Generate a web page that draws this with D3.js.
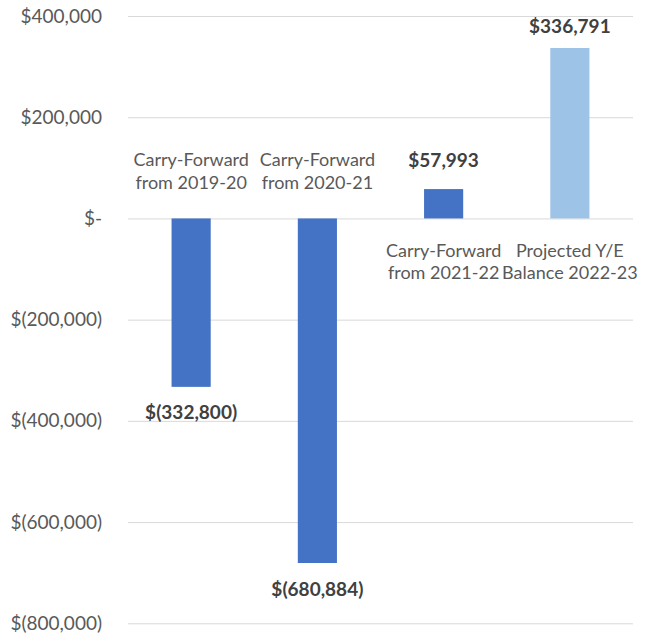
<!DOCTYPE html>
<html>
<head>
<meta charset="utf-8">
<script src="https://cdn.jsdelivr.net/npm/d3@7"></script>
<style>
  body { margin:0; background:#fff; }
  text { font-family: Lato, "Open Sans", sans-serif; }
</style>
</head>
<body>
<div id="chart"></div>
<script>
// chart data
const categories = ["Carry-Forward from 2019-20", "Carry-Forward from 2020-21", "Carry-Forward from 2021-22", "Projected Y/E Balance 2022-23"];
const catLines = [["Carry-Forward", "from 2019-20"], ["Carry-Forward", "from 2020-21"], ["Carry-Forward", "from 2021-22"], ["Projected Y/E", "Balance 2022-23"]];
const values = [-332800, -680884, 57993, 336791];
const barColors = ["#4472C4", "#4472C4", "#4472C4", "#9DC3E6"];
const yTicks = [400000, 200000, 0, -200000, -400000, -600000, -800000];

function money(v) {
  if (v === 0) return "$-";
  const s = d3.format(",")(Math.abs(v));
  return v < 0 ? `$(${s})` : `$${s}`;
}

function renderChart() {
  const W = 648, H = 633;
  const margin = {top:16, right:15, bottom:10, left:128},
        width = W - margin.left - margin.right,
        height = 623.3 - margin.top;

  const svg = d3.select("#chart").append("svg")
    .attr("width", W).attr("height", H)
    .append("g").attr("transform", `translate(${margin.left},${margin.top})`);

  const data = categories.map((c,i)=>({cat:c, lines:catLines[i], value:values[i], color:barColors[i]}));

  const x = d3.scaleBand().domain(categories).range([0,width]).paddingInner(0.69).paddingOuter(0.345);
  const y = d3.scaleLinear().domain([-800000, 400000]).range([height, 0]);

  // grid + tick labels
  const ax = svg.append("g")
    .call(d3.axisLeft(y).tickValues(yTicks).tickSize(-width).tickPadding(26).tickFormat(money));
  ax.select(".domain").remove();
  ax.selectAll(".tick line").attr("stroke", "#D9D9D9").attr("stroke-width", 1);
  ax.selectAll(".tick text").attr("fill", "#595959").style("font-size", "19px")
    .style("font-family", "Lato, 'Open Sans', sans-serif");

  // bars
  svg.selectAll("rect.bar").data(data).join("rect").attr("class","bar")
    .attr("x", d=>x(d.cat)).attr("width", x.bandwidth())
    .attr("y", d=>y(Math.max(0,d.value)))
    .attr("height", d=>Math.abs(y(d.value)-y(0)))
    .attr("fill", d=>d.color);

  // value labels
  svg.selectAll("text.val").data(data).join("text").attr("class","val")
    .attr("x", d=>x(d.cat)+x.bandwidth()/2)
    .attr("y", d=> d.value < 0 ? y(d.value)+32.6 : Math.max(y(d.value)-22, y(400000)+17))
    .attr("text-anchor","middle").attr("fill","#404040")
    .style("font-size","19px").style("font-weight","bold")
    .text(d=>money(d.value));

  // category labels (opposite side of zero from the bar)
  const cl = svg.selectAll("text.cat").data(data).join("text").attr("class","cat")
    .attr("text-anchor","middle").attr("fill","#595959").style("font-size","18px")
    .attr("transform", d=>`translate(${x(d.cat)+x.bandwidth()/2},${d.value < 0 ? y(0)-52 : y(0)+38.4})`);
  cl.selectAll("tspan").data(d=>d.lines).join("tspan")
    .attr("x",0).attr("dy",(d,i)=>i===0 ? 0 : 22.5).text(d=>d);
}
renderChart();
</script>
</body>
</html>
